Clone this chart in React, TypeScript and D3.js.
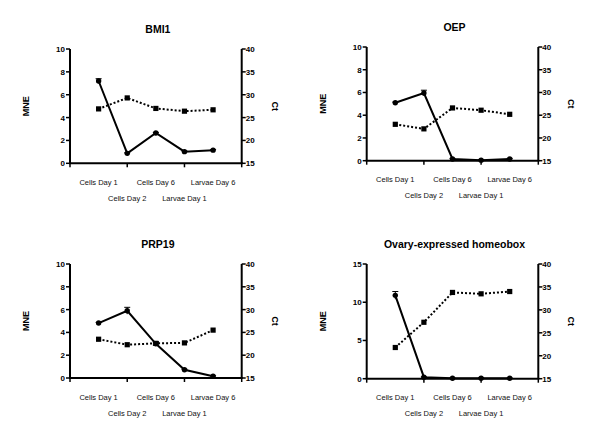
import React from "react";
import * as d3 from "d3";

const categories = ["Cells Day 1", "Cells Day 2", "Cells Day 6", "Larvae Day 1", "Larvae Day 6"];
const ctTicks = [15, 20, 25, 30, 35, 40];

const bmi1Mne = [7.2, 0.87, 2.65, 1.02, 1.15];
const bmi1MneErr = [0.2, 0.05, 0.05, 0.05, 0.05];
const bmi1Ct = [26.9, 29.3, 27.0, 26.4, 26.7];
const bmi1CtErr = [0, 0, 0, 0, 0];

const oepMne = [5.1, 5.95, 0.15, 0.05, 0.15];
const oepMneErr = [0.05, 0.25, 0.05, 0.05, 0.05];
const oepCt = [23.0, 22.0, 26.6, 26.1, 25.2];
const oepCtErr = [0, 0, 0, 0, 0];

const prp19Mne = [4.82, 5.9, 3.0, 0.72, 0.15];
const prp19MneErr = [0.05, 0.3, 0.1, 0.05, 0.05];
const prp19Ct = [23.5, 22.3, 22.6, 22.7, 25.5];
const prp19CtErr = [0, 0, 0.4, 0, 0];

const homeoMne = [10.9, 0.2, 0.05, 0.05, 0.05];
const homeoMneErr = [0.5, 0.05, 0.05, 0.1, 0.05];
const homeoCt = [21.8, 27.3, 33.8, 33.5, 34.0];
const homeoCtErr = [0, 0, 0, 0, 0];

const FONT = "'Liberation Sans', Arial, Helvetica, sans-serif";

type PanelProps = {
  title: string;
  left: number;
  right: number;
  top: number;
  bottom: number;
  leftMax: number;
  leftTicks: number[];
  mne: number[];
  mneErr: number[];
  ct: number[];
  ctErr: number[];
};

function Panel(p: PanelProps) {
  const x = d3.scaleLinear().domain([0, 6]).range([p.left, p.right]);
  const yL = d3.scaleLinear().domain([0, p.leftMax]).range([p.bottom, p.top]);
  const yR = d3.scaleLinear().domain([15, 40]).range([p.bottom, p.top]);
  const lineL = d3
    .line<number>()
    .x((_, i) => x(i + 1))
    .y((d) => yL(d));
  const lineR = d3
    .line<number>()
    .x((_, i) => x(i + 1))
    .y((d) => yR(d));
  const cx = (p.left + p.right) / 2;
  const cy = (p.top + p.bottom) / 2;
  const xTicks = [0, 2, 4, 6];
  return (
    <g fontFamily={FONT}>
      <text x={cx + 2} y={p.top - 16} textAnchor="middle" fontSize={10.5} fontWeight="bold">
        {p.title}
      </text>
      {/* axes */}
      <line x1={p.left} x2={p.left} y1={p.top} y2={p.bottom} stroke="#000" strokeWidth={2} />
      <line x1={p.right} x2={p.right} y1={p.top} y2={p.bottom} stroke="#000" strokeWidth={2} />
      <line x1={p.left - 1} x2={p.right + 1} y1={p.bottom} y2={p.bottom} stroke="#000" strokeWidth={2} />
      {p.leftTicks.map((t) => (
        <g key={"l" + t}>
          <line x1={p.left - 4} x2={p.left} y1={yL(t)} y2={yL(t)} stroke="#000" strokeWidth={1.5} />
          <text x={p.left - 5} y={yL(t) + 3} textAnchor="end" fontSize={8} fontWeight="bold">
            {t}
          </text>
        </g>
      ))}
      {ctTicks.map((t) => (
        <g key={"r" + t}>
          <line x1={p.right} x2={p.right + 4} y1={yR(t)} y2={yR(t)} stroke="#000" strokeWidth={1.5} />
          <text x={p.right + 4} y={yR(t) + 3} textAnchor="start" fontSize={8} fontWeight="bold">
            {t}
          </text>
        </g>
      ))}
      {xTicks.map((t) => (
        <line key={"x" + t} x1={x(t)} x2={x(t)} y1={p.bottom} y2={p.bottom + 4} stroke="#000" strokeWidth={1.5} />
      ))}
      {categories.map((c, i) => (
        <text
          key={c}
          x={x(i + 1)}
          y={p.bottom + (i % 2 === 0 ? 21.5 : 37.5)}
          textAnchor="middle"
          fontSize={7.5}
          fill="#111"
        >
          {c}
        </text>
      ))}
      <text
        transform={`translate(${p.left - 41},${cy}) rotate(-90)`}
        textAnchor="middle"
        fontSize={9}
        fontWeight="bold"
      >
        MNE
      </text>
      <text
        transform={`translate(${p.right + 30},${cy}) rotate(90)`}
        textAnchor="middle"
        fontSize={9}
        fontWeight="bold"
      >
        Ct
      </text>
      {/* Ct dotted series */}
      <path d={lineR(p.ct) || ""} fill="none" stroke="#000" strokeWidth={2} strokeDasharray="2,2" />
      {p.ct.map((v, i) =>
        p.ctErr[i] > 0 ? (
          <g key={"ce" + i}>
            <line x1={x(i + 1)} x2={x(i + 1)} y1={yR(v - p.ctErr[i])} y2={yR(v + p.ctErr[i])} stroke="#000" strokeWidth={1} />
            <line x1={x(i + 1) - 3} x2={x(i + 1) + 3} y1={yR(v + p.ctErr[i])} y2={yR(v + p.ctErr[i])} stroke="#000" strokeWidth={1} />
            <line x1={x(i + 1) - 3} x2={x(i + 1) + 3} y1={yR(v - p.ctErr[i])} y2={yR(v - p.ctErr[i])} stroke="#000" strokeWidth={1} />
          </g>
        ) : null
      )}
      {p.ct.map((v, i) => (
        <rect key={"cs" + i} x={x(i + 1) - 2.6} y={yR(v) - 2.6} width={5.2} height={5.2} fill="#000" />
      ))}
      {/* MNE solid series */}
      <path d={lineL(p.mne) || ""} fill="none" stroke="#000" strokeWidth={2} />
      {p.mne.map((v, i) => (
        <g key={"me" + i}>
          <line x1={x(i + 1)} x2={x(i + 1)} y1={yL(Math.max(0, v - p.mneErr[i]))} y2={yL(v + p.mneErr[i])} stroke="#000" strokeWidth={1} />
          <line x1={x(i + 1) - 3} x2={x(i + 1) + 3} y1={yL(v + p.mneErr[i])} y2={yL(v + p.mneErr[i])} stroke="#000" strokeWidth={1} />
        </g>
      ))}
      {p.mne.map((v, i) => (
        <circle key={"mc" + i} cx={x(i + 1)} cy={yL(v)} r={2.7} fill="#000" />
      ))}
    </g>
  );
}

export default function App() {
  return (
    <svg
      width={600}
      height={439}
      style={{ position: "absolute", left: 0, top: 0, background: "#fff" }}
    >
      <rect width={600} height={439} fill="#fff" />
      <Panel
        title="BMI1"
        left={70}
        right={241.7}
        top={49}
        bottom={163.3}
        leftMax={10}
        leftTicks={[0, 2, 4, 6, 8, 10]}
        mne={bmi1Mne}
        mneErr={bmi1MneErr}
        ct={bmi1Ct}
        ctErr={bmi1CtErr}
      />
      <Panel
        title="OEP"
        left={366.7}
        right={538.3}
        top={47}
        bottom={160.7}
        leftMax={10}
        leftTicks={[0, 2, 4, 6, 8, 10]}
        mne={oepMne}
        mneErr={oepMneErr}
        ct={oepCt}
        ctErr={oepCtErr}
      />
      <Panel
        title="PRP19"
        left={70}
        right={241.7}
        top={264}
        bottom={378}
        leftMax={10}
        leftTicks={[0, 2, 4, 6, 8, 10]}
        mne={prp19Mne}
        mneErr={prp19MneErr}
        ct={prp19Ct}
        ctErr={prp19CtErr}
      />
      <Panel
        title="Ovary-expressed homeobox"
        left={366.7}
        right={538.3}
        top={264}
        bottom={378.7}
        leftMax={15}
        leftTicks={[0, 5, 10, 15]}
        mne={homeoMne}
        mneErr={homeoMneErr}
        ct={homeoCt}
        ctErr={homeoCtErr}
      />
    </svg>
  );
}
